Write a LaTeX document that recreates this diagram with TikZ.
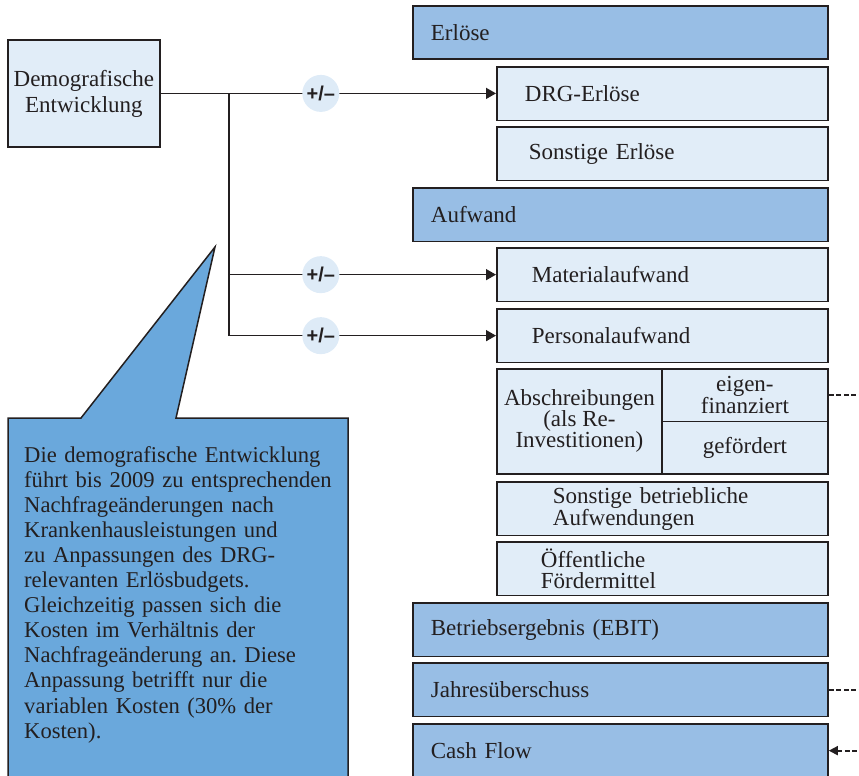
\documentclass[tikz,border=0pt]{standalone}
\usepackage{fontspec}
\setmainfont{Liberation Serif}
\newfontfamily\pmfont{Liberation Sans}
\usetikzlibrary{arrows.meta,positioning,calc}
\definecolor{ink}{RGB}{35,31,32}
\definecolor{darkfill}{RGB}{152,190,229}
\definecolor{lightfill}{RGB}{225,237,248}
\definecolor{notefill}{RGB}{106,168,220}
\definecolor{pmfill}{RGB}{222,235,247}
\frenchspacing

\begin{document}
\begin{tikzpicture}[x=1pt,y=-1pt,
    font=\fontsize{23}{21}\selectfont, text=ink,
    box/.style={draw=ink,line width=1.8pt,anchor=north west,align=left,minimum height=53.5pt},
    dbox/.style={box,fill=darkfill,inner xsep=18pt,text width=379pt},
    lbox/.style={box,fill=lightfill},
    cell/.style={box,fill=lightfill,align=center,inner xsep=2pt},
    pm/.style={circle,fill=pmfill,minimum size=37pt,inner sep=0pt,
        font=\pmfont\bfseries\fontsize{20}{20}\selectfont},
    arrow/.style={-{Triangle[length=10pt,width=11pt]},line width=1.5pt,draw=ink},
    link/.style={dash pattern=on 5pt off 2.5pt,line width=1.7pt,draw=ink}
]
\useasboundingbox (0,0) rectangle (859,776);
\clip (0,0) rectangle (859,776);

% source
\node[box,fill=lightfill,align=center,minimum width=152pt,minimum height=107pt,
    inner sep=2pt,font=\fontsize{23}{26}\selectfont] (demo) at (7,39) {Demografische\\Entwicklung};

% Erloese
\node[dbox] (erl) at (412,5) {Erlöse};
\node[lbox,inner xsep=28pt,text width=275pt] (drg) at (496,66) {DRG-Erlöse};
\node[lbox,inner xsep=32pt,text width=267pt] (sonst) at (496,126) {Sonstige Erlöse};

% Aufwand
\node[dbox] (aufw) at (412,187) {Aufwand};
\node[lbox,inner xsep=35pt,text width=261pt] (mat) at (496,247) {Materialaufwand};
\node[lbox,inner xsep=35pt,text width=261pt] (pers) at (496,308) {Personalaufwand};
\node[cell,minimum width=165pt,minimum height=105pt] (abs) at (496,368) {Abschreibungen\\(als Re-\\Investitionen)};
\node[cell,minimum width=166pt,minimum height=52.5pt] (eigen) at (661,368) {eigen-\\finanziert};
\node[cell,minimum width=166pt,minimum height=52.5pt] (gef) at (661,420.5) {gefördert};
\node[lbox,inner xsep=56pt,text width=219pt] (sba) at (496,481) {Sonstige betriebliche\\Aufwendungen};
\node[lbox,inner xsep=44pt,text width=243pt] (oef) at (496,541) {Öffentliche\\Fördermittel};

% Ergebnis
\node[dbox] (ebit) at (412,602) {Betriebsergebnis (EBIT)};
\node[dbox] (jahr) at (412,662) {Jahresüberschuss};
\node[dbox] (cf) at (412,723) {Cash Flow};

% callout
\draw[draw=ink,fill=notefill,line width=1.5pt]
    (8,418) -- (81,418) -- (215,247) -- (176,418) -- (348,418) -- (348,800) -- (8,800) -- cycle;
\node[anchor=base west,inner sep=0pt,align=left,text width=322pt,
    font=\fontsize{22.6}{25.1}\selectfont] (note) at (24,462)
    {Die demografische Entwicklung\\führt bis 2009 zu entsprechenden\\Nachfrageänderungen nach\\
     Krankenhausleistungen und\\zu Anpassungen des DRG-\\relevanten Erlösbudgets.\\
     Gleichzeitig passen sich die\\Kosten im Verhältnis der\\Nachfrageänderung an. Diese\\
     Anpassung betrifft nur die\\variablen Kosten (30\% der\\Kosten).};

% connectors
\coordinate (split) at ($(demo.east)+(68,0)$);
\draw[arrow] (demo.east) -- (demo.east -| drg.west);
\draw[arrow] (split) |- (mat.west);
\draw[arrow] (split) |- (pers.west);
\node[pm] (pm1) at ($(split)+(92,0)$) {+/–};
\node[pm] (pm2) at (pm1 |- mat.west) {+/–};
\node[pm] (pm3) at (pm1 |- pers.west) {+/–};

\coordinate (edgeA) at ($(eigen.east)+(40,0)$);
\coordinate (edgeB) at ($(jahr.east)+(40,0)$);
\coordinate (edgeC) at ($(cf.east)+(40,0)$);
\draw[link] (eigen.east) -- (edgeA);
\draw[link] (jahr.east) -- (edgeB);
\draw[link,{Triangle[length=9pt,width=9pt]}-] (cf.east) -- (edgeC);
\end{tikzpicture}
\end{document}
